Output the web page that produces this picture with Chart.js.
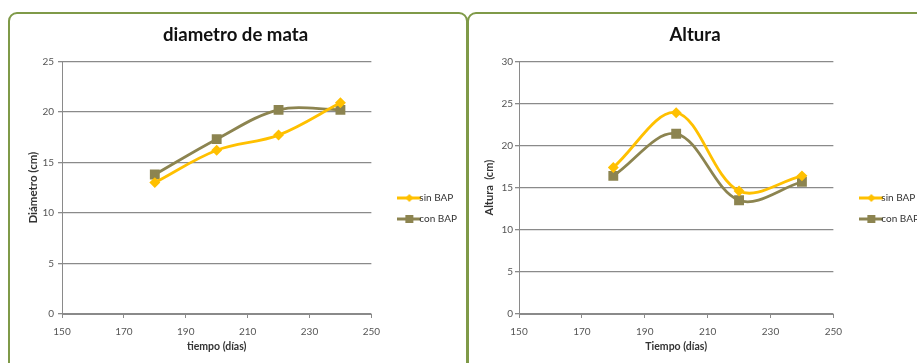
<!DOCTYPE html>
<html>
<head>
<meta charset="utf-8">
<script src="https://cdn.jsdelivr.net/npm/chart.js@4.4.1/dist/chart.umd.min.js"></script>
<style>
  html, body { margin: 0; padding: 0; background: #ffffff; width: 917px; height: 363px; overflow: hidden; }
  .panel {
    position: absolute; box-sizing: border-box;
    border: 2.5px solid #7f9a48; border-radius: 9px; background: #ffffff;
  }
  .box { position: absolute; }
</style>
</head>
<body>
<div class="panel" style="left:8px; top:12px; width:460px; height:370px;"></div>
<div class="panel" style="left:467px; top:12px; width:470px; height:370px;"></div>
<div class="box" style="left:26px; top:14px; width:440px; height:349px;"><canvas id="diam"></canvas></div>
<div class="box" style="left:483px; top:14px; width:444px; height:349px;"><canvas id="alt"></canvas></div>
<script>
// Measurement days
const days = [180, 200, 220, 240];
// Crown diameter (cm)
const diamSinBAP = [13.0, 16.2, 17.7, 20.9];
const diamConBAP = [13.8, 17.3, 20.2, 20.2];
// Plant height (cm)
const altSinBAP = [17.4, 23.9, 14.6, 16.4];
const altConBAP = [16.4, 21.4, 13.5, 15.7];
// Series names
const seriesNames = ['sin BAP', 'con BAP'];
// Axis ticks
const xTicks = [150, 170, 190, 210, 230, 250];
const diamYTicks = [0, 5, 10, 15, 20, 25];
const altYTicks = [0, 5, 10, 15, 20, 25, 30];

const SIN_COLOR = '#ffc000';
const CON_COLOR = '#8c8450';
const FONT = 'Lato, "Open Sans", sans-serif';

// Small line-plus-marker swatch for the legend entries
function legendIcon(color, style) {
  const c = document.createElement('canvas');
  c.width = 24; c.height = 12;
  const g = c.getContext('2d');
  g.strokeStyle = color; g.lineWidth = 3;
  g.beginPath(); g.moveTo(0, 6); g.lineTo(24, 6); g.stroke();
  g.fillStyle = color;
  if (style === 'rect') {
    g.fillRect(8, 2, 8, 8);
  } else {
    g.beginPath(); g.moveTo(12, 2); g.lineTo(16, 6); g.lineTo(12, 10); g.lineTo(8, 6); g.closePath(); g.fill();
  }
  return c;
}

// Nudges the legend box away from the plot area after layout
const legendOffset = {
  id: 'legendOffset',
  afterLayout(chart, args, opts) {
    const lg = chart.legend;
    if (!lg) return;
    lg.left += opts.dx; lg.right += opts.dx;
    lg.top += opts.dy; lg.bottom += opts.dy;
  }
};

function points(xs, ys) { return xs.map((x, i) => ({ x: x, y: ys[i] })); }

function makeChart(id, title, yTitle, xTitle, sinVals, conVals, yTicks, cfg) {
  const icons = [legendIcon(SIN_COLOR, 'rectRot'), legendIcon(CON_COLOR, 'rect')];
  return new Chart(document.getElementById(id), {
    type: 'line',
    plugins: [legendOffset],
    data: {
      datasets: [
        { label: seriesNames[0], data: points(days, sinVals), borderColor: SIN_COLOR, backgroundColor: SIN_COLOR,
          borderWidth: 2.8, pointStyle: 'rectRot', pointRadius: 3.5, tension: 0.35 },
        { label: seriesNames[1], data: points(days, conVals), borderColor: CON_COLOR, backgroundColor: CON_COLOR,
          borderWidth: 2.8, pointStyle: 'rect', pointRadius: 5, tension: 0.35 }
      ]
    },
    options: {
      responsive: true, maintainAspectRatio: false, animation: false,
      layout: { padding: { left: 0, right: cfg.padRight, top: 0, bottom: 0 } },
      plugins: {
        title: { display: true, text: title, color: '#111', font: { family: FONT, size: 18.6, weight: 'bold' },
                 padding: { top: 10, bottom: 15 } },
        legendOffset: { dx: cfg.dx, dy: 20 },
        legend: {
          position: 'right', align: 'center',
          labels: {
            usePointStyle: true, color: '#333', font: { family: FONT, size: 10 }, padding: 11,
            generateLabels: (chart) => chart.data.datasets.map((ds, i) => ({
              text: ds.label, pointStyle: icons[i], fillStyle: ds.borderColor, strokeStyle: ds.borderColor,
              lineWidth: 0, datasetIndex: i, hidden: false, fontColor: '#333'
            }))
          }
        },
        tooltip: { enabled: false }
      },
      scales: {
        x: {
          type: 'linear', min: xTicks[0], max: xTicks[xTicks.length - 1],
          afterBuildTicks: (s) => { s.ticks = xTicks.map(v => ({ value: v })); },
          afterFit: (s) => { s.height = 49; },
          grid: { drawOnChartArea: false, drawTicks: true, tickLength: 4, color: '#8a8a8a' },
          border: { color: '#8a8a8a', width: 1 },
          ticks: { color: '#555', font: { family: FONT, size: 10 }, padding: 8, maxRotation: 0 },
          title: { display: true, text: xTitle, color: '#333', font: { family: FONT, size: 10.5, weight: 'bold' },
                   padding: { top: 4, bottom: 10 } }
        },
        y: {
          min: yTicks[0], max: yTicks[yTicks.length - 1],
          afterBuildTicks: (s) => { s.ticks = yTicks.map(v => ({ value: v })); },
          afterFit: (s) => { s.width = cfg.yw; },
          grid: { color: '#8a8a8a', lineWidth: 1.3, tickLength: 4 },
          border: { color: '#8a8a8a', width: 1 },
          ticks: { color: '#555', font: { family: FONT, size: 10 }, padding: cfg.tickPad },
          title: { display: true, text: yTitle, color: '#333', font: { family: FONT, size: cfg.yFont, weight: 'bold' },
                   padding: { top: 0, bottom: 0 } }
        }
      }
    }
  });
}

makeChart('diam', 'diametro de mata', 'Diámetro (cm)', 'tiempo (días)', diamSinBAP, diamConBAP, diamYTicks,
          { yw: 36, padRight: 21, dx: 22, yFont: 11.5, tickPad: 4 });
makeChart('alt', 'Altura', 'Altura  (cm)', 'Tiempo (días)', altSinBAP, altConBAP, altYTicks,
          { yw: 36, padRight: 20, dx: 22, yFont: 11, tickPad: 2 });
</script>
</body>
</html>
